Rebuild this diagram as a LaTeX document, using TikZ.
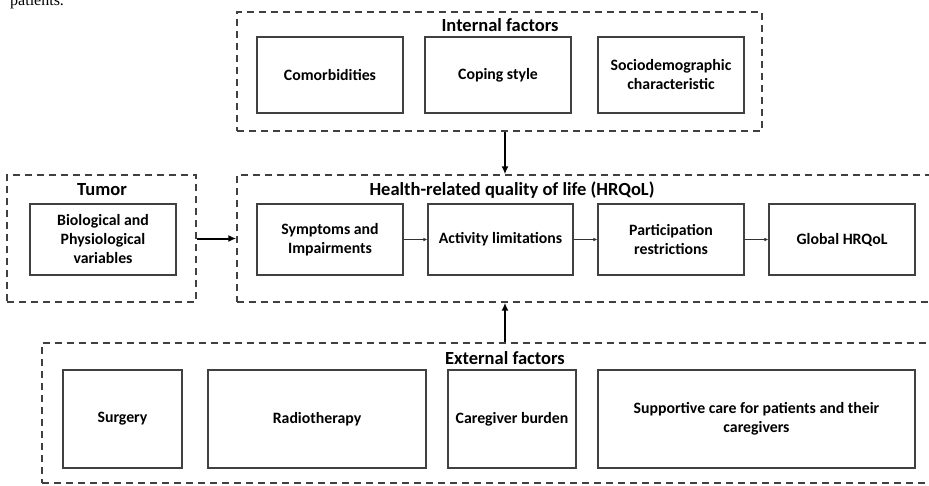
\documentclass[tikz,border=0pt]{standalone}
\usepackage{fontspec}
\setmainfont{Carlito}
\newfontfamily\pagefont{Liberation Serif}
\usepackage{tikz}
\usetikzlibrary{arrows.meta}

\begin{document}
\begin{tikzpicture}[x=1pt, y=-1pt,
        group/.style={draw=black!75, line width=1.4pt, dash pattern=on 7pt off 5pt, inner sep=0pt},
        factor/.style={draw=black!75, line width=1.1pt, inner sep=0pt, align=center, font=\bfseries\fontsize{15.8}{19}\selectfont},
        grouptitle/.style={font=\bfseries\fontsize{18.5}{22}\selectfont},
        bigarrow/.style={line width=2pt, -{Latex[length=8pt, width=7pt]}},
        smallarrow/.style={line width=1pt, black!80, -{Latex[length=4pt, width=3.5pt]}}]
        \useasboundingbox (0,0) rectangle (929,485);
        \clip (0,0) rectangle (929,485);

        % Text of the page above
        \node[anchor=base west, inner sep=0pt, font=\pagefont\fontsize{16}{18}\selectfont] (pagetext) at (10,5) {patients.};

        % Groups
        \node[group, minimum width=525pt, minimum height=119pt] (internal) at (499.5,71.5) {};
        \node[group, minimum width=189pt, minimum height=127pt] (tumor) at (101.5,238.5) {};
        \node[group, minimum width=710pt, minimum height=127pt] (hrqol) at (592,238.5) {};
        \node[group, minimum width=900pt, minimum height=140pt] (external) at (492,413) {};

        % Group titles
        \node[grouptitle] (internaltitle) at (500,25) {Internal factors};
        \node[grouptitle] (tumortitle) at (102,190) {Tumor};
        \node[grouptitle] (hrqoltitle) at (512,190) {Health-related quality of life (HRQoL)};
        \node[grouptitle] (externaltitle) at (505,358) {External factors};

        % Internal factors
        \node[factor, minimum width=146pt, minimum height=76pt] (comorb) at (330,75) {Comorbidities};
        \node[factor, minimum width=146pt, minimum height=76pt] (coping) at (498,75) {Coping style};
        \node[factor, minimum width=146pt, minimum height=76pt] (socio) at (671,75) {Sociodemographic\\characteristic};

        % Tumor
        \node[factor, minimum width=146pt, minimum height=71pt] (biovar) at (103,239.5) {Biological and\\Physiological\\variables};

        % HRQoL
        \node[factor, minimum width=146pt, minimum height=71pt] (symptoms) at (330,239.5) {Symptoms and\\Impairments};
        \node[factor, minimum width=145pt, minimum height=71pt] (activity) at (500.5,239.5) {Activity limitations};
        \node[factor, minimum width=146pt, minimum height=71pt] (particip) at (671,239.5) {Participation\\restrictions};
        \node[factor, minimum width=146pt, minimum height=71pt] (global) at (842,239.5) {Global HRQoL};

        % External factors
        \node[factor, minimum width=119pt, minimum height=98pt] (surgery) at (122.5,419) {Surgery};
        \node[factor, minimum width=218pt, minimum height=98pt] (radio) at (317,419) {Radiotherapy};
        \node[factor, minimum width=128pt, minimum height=98pt] (burden) at (512,419) {Caregiver burden};
        \node[factor, minimum width=317pt, minimum height=98pt] (support) at (756.5,419) {Supportive care for patients and their\\caregivers};

        % Arrows
        \coordinate (axis) at (505,0);
        \draw[bigarrow] (internal.south -| axis) -- (hrqol.north -| axis);
        \draw[bigarrow] (tumor.east) -- (hrqol.west);
        \draw[bigarrow] (external.north -| axis) -- (hrqol.south -| axis);
        \draw[smallarrow] (symptoms) -- (activity);
        \draw[smallarrow] (activity) -- (particip);
        \draw[smallarrow] (particip) -- (global);

    \end{tikzpicture}
\end{document}
